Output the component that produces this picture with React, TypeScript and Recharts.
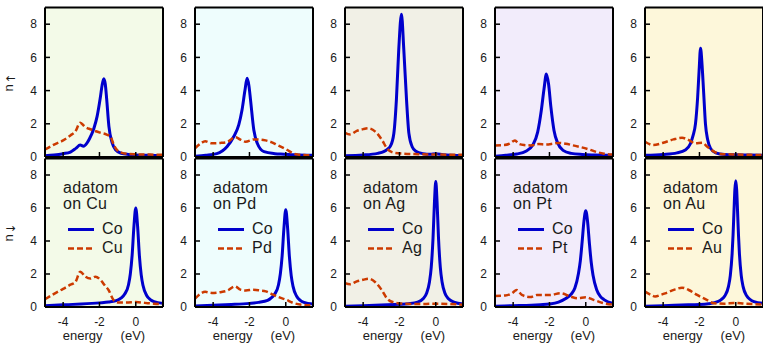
import React from 'react';
import { LineChart, Line, XAxis, YAxis, CartesianGrid, Legend } from 'recharts';

type Pt = [number, number];

const FONT = '"Liberation Sans", Arial, Helvetica, sans-serif';
const CO_COLOR = '#0000cc';
const SUB_COLOR = '#cc3a00';

const substrates = ['Cu', 'Pd', 'Ag', 'Pt', 'Au'];
const panelBg = ['#f3fae8', '#eefdfd', '#f1f0e6', '#f2ecfb', '#fdf7da'];
const energyTicks = [-4, -2, 0];
const nTicks = [0, 2, 4, 6, 8];

// [energy (eV), n]
const cuCoUp: Pt[] = [[-5, 0.08], [-4.5, 0.12], [-4, 0.2], [-3.6, 0.3], [-3.3, 0.52], [-3.06, 0.72], [-2.88, 0.65], [-2.7, 0.82], [-2.55, 1.1], [-2.3, 1.75], [-2.13, 2.45], [-1.95, 3.6], [-1.85, 4.35], [-1.76, 4.72], [-1.68, 4.4], [-1.6, 3.45], [-1.48, 1.85], [-1.3, 0.85], [-1.1, 0.42], [-0.8, 0.22], [-0.4, 0.15], [0, 0.12], [0.7, 0.1], [1.5, 0.08]];
const cuSubUp: Pt[] = [[-5, 0.45], [-4.5, 0.75], [-4, 1.0], [-3.6, 1.3], [-3.33, 1.53], [-3.06, 2.07], [-2.8, 1.82], [-2.5, 1.67], [-2.2, 1.55], [-1.94, 1.46], [-1.6, 1.35], [-1.39, 1.22], [-1.2, 0.7], [-1.0, 0.38], [-0.8, 0.26], [-0.4, 0.18], [0, 0.16], [0.5, 0.15], [1, 0.14], [1.5, 0.13]];
const cuCoDown: Pt[] = [[-5, 0.08], [-4, 0.13], [-3, 0.18], [-2, 0.25], [-1.5, 0.3], [-1.0, 0.42], [-0.8, 0.55], [-0.6, 0.8], [-0.4, 1.35], [-0.3, 2.0], [-0.2, 3.15], [-0.1, 4.9], [0, 6.0], [0.1, 4.9], [0.2, 3.1], [0.3, 1.95], [0.4, 1.3], [0.6, 0.7], [0.8, 0.45], [1.0, 0.33], [1.5, 0.22]];
const cuSubDown: Pt[] = [[-5, 0.47], [-4.5, 0.8], [-4, 1.1], [-3.6, 1.35], [-3.33, 1.5], [-3.06, 2.14], [-2.78, 1.84], [-2.5, 1.72], [-2.22, 1.84], [-1.94, 1.64], [-1.7, 1.3], [-1.5, 1.03], [-1.22, 0.42], [-0.94, 0.27], [-0.5, 0.27], [0, 0.3], [0.5, 0.25], [1, 0.2], [1.5, 0.18]];

const pdCoUp: Pt[] = [[-5, 0.05], [-4.4, 0.1], [-3.8, 0.2], [-3.24, 0.62], [-2.87, 1.22], [-2.59, 1.93], [-2.41, 2.83], [-2.25, 4.0], [-2.13, 4.74], [-2.03, 4.3], [-1.94, 3.43], [-1.76, 1.63], [-1.57, 0.83], [-1.2, 0.32], [-0.6, 0.2], [-0.1, 0.17], [0.5, 0.13], [1.5, 0.1]];
const pdSubUp: Pt[] = [[-5, 0.52], [-4.7, 0.8], [-4.44, 0.95], [-4.07, 0.83], [-3.6, 0.85], [-3.24, 0.9], [-2.78, 1.19], [-2.5, 1.05], [-2.22, 0.92], [-1.76, 1.06], [-1.4, 1.05], [-1.11, 1.0], [-0.8, 0.9], [-0.46, 0.72], [0.09, 0.42], [0.4, 0.22], [0.65, 0.15], [1.0, 0.12], [1.5, 0.1]];
const pdCoDown: Pt[] = [[-5, 0.06], [-4, 0.1], [-3, 0.15], [-2, 0.22], [-1.5, 0.28], [-1.0, 0.4], [-0.8, 0.55], [-0.6, 0.8], [-0.4, 1.35], [-0.3, 2.0], [-0.2, 3.1], [-0.1, 4.8], [0, 5.9], [0.1, 4.8], [0.2, 3.05], [0.3, 1.9], [0.4, 1.25], [0.6, 0.65], [0.8, 0.4], [1.0, 0.28], [1.5, 0.18]];
const pdSubDown: Pt[] = [[-5, 0.5], [-4.7, 0.8], [-4.44, 0.92], [-4.07, 0.85], [-3.6, 0.9], [-3.2, 1.0], [-2.8, 1.25], [-2.5, 1.05], [-2.2, 1.0], [-1.8, 1.05], [-1.4, 1.0], [-1.1, 0.95], [-0.8, 0.8], [-0.4, 0.6], [0, 0.45], [0.4, 0.25], [0.8, 0.15], [1.5, 0.1]];

const agCoUp: Pt[] = [[-5, 0.08], [-4, 0.12], [-3.2, 0.22], [-2.87, 0.32], [-2.65, 0.48], [-2.5, 0.65], [-2.31, 1.42], [-2.17, 3.43], [-2.04, 6.45], [-1.89, 8.6], [-1.76, 6.45], [-1.61, 3.43], [-1.48, 1.42], [-1.3, 0.62], [-1.1, 0.35], [-0.7, 0.2], [-0.3, 0.16], [0, 0.2], [0.4, 0.14], [1.5, 0.08]];
const agSubUp: Pt[] = [[-5, 1.46], [-4.72, 1.36], [-4.35, 1.57], [-4.0, 1.68], [-3.7, 1.73], [-3.33, 1.53], [-2.96, 1.02], [-2.69, 0.52], [-2.31, 0.26], [-1.76, 0.2], [-1, 0.17], [0, 0.15], [1.5, 0.13]];
const agCoDown: Pt[] = [[-5, 0.05], [-4, 0.08], [-3, 0.12], [-2, 0.16], [-1.5, 0.2], [-1.0, 0.3], [-0.7, 0.5], [-0.5, 0.85], [-0.35, 1.5], [-0.25, 2.4], [-0.15, 4.2], [-0.07, 6.4], [0, 7.6], [0.07, 6.4], [0.15, 4.2], [0.25, 2.4], [0.35, 1.5], [0.5, 0.85], [0.7, 0.5], [1.0, 0.3], [1.5, 0.18]];
const agSubDown: Pt[] = [[-5, 1.45], [-4.72, 1.38], [-4.35, 1.55], [-4.0, 1.65], [-3.7, 1.72], [-3.33, 1.5], [-2.96, 1.0], [-2.69, 0.52], [-2.31, 0.28], [-1.76, 0.2], [-1, 0.18], [0, 0.2], [1.5, 0.14]];

const ptCoUp: Pt[] = [[-5, 0.05], [-4.4, 0.1], [-3.8, 0.18], [-3.3, 0.35], [-2.9, 0.75], [-2.65, 1.5], [-2.45, 2.8], [-2.3, 4.1], [-2.17, 5.0], [-2.05, 4.4], [-1.92, 3.0], [-1.75, 1.6], [-1.55, 0.85], [-1.25, 0.4], [-0.8, 0.22], [-0.2, 0.15], [0.5, 0.12], [1.5, 0.1]];
const ptSubUp: Pt[] = [[-5, 0.7], [-4.5, 0.72], [-4.2, 0.8], [-3.9, 1.0], [-3.7, 0.8], [-3.4, 0.72], [-3.0, 0.7], [-2.6, 0.78], [-2.2, 0.75], [-1.8, 0.8], [-1.5, 0.85], [-1.1, 0.8], [-0.7, 0.7], [-0.3, 0.6], [0.2, 0.45], [0.6, 0.3], [1.0, 0.2], [1.5, 0.15]];
const ptCoDown: Pt[] = [[-5, 0.05], [-4, 0.08], [-3, 0.11], [-2.5, 0.14], [-2, 0.18], [-1.5, 0.3], [-1.1, 0.52], [-0.8, 0.78], [-0.6, 1.15], [-0.4, 2.05], [-0.3, 2.8], [-0.2, 3.95], [-0.1, 5.2], [0, 5.84], [0.1, 5.17], [0.2, 3.86], [0.3, 2.71], [0.4, 1.92], [0.6, 1.05], [0.8, 0.65], [1.0, 0.45], [1.5, 0.22]];
const ptSubDown: Pt[] = [[-5, 0.67], [-4.44, 0.7], [-4.07, 0.83], [-3.8, 1.03], [-3.52, 0.73], [-3.06, 0.6], [-2.69, 0.73], [-2.3, 0.72], [-1.94, 0.73], [-1.39, 0.83], [-0.83, 0.63], [-0.46, 0.53], [0, 0.59], [0.46, 0.42], [1.02, 0.22], [1.5, 0.15]];

const auCoUp: Pt[] = [[-5, 0.1], [-4, 0.15], [-3.24, 0.25], [-2.78, 0.42], [-2.5, 0.8], [-2.35, 1.3], [-2.22, 2.0], [-2.1, 3.6], [-2.02, 5.2], [-1.94, 6.55], [-1.86, 5.6], [-1.77, 3.9], [-1.67, 2.0], [-1.55, 1.05], [-1.39, 0.52], [-1.11, 0.25], [-0.6, 0.15], [0, 0.13], [0.7, 0.12], [1.5, 0.1]];
const auSubUp: Pt[] = [[-5, 0.92], [-4.54, 0.72], [-4.0, 0.86], [-3.43, 1.06], [-2.96, 1.16], [-2.59, 1.02], [-2.22, 0.82], [-1.85, 0.86], [-1.57, 0.62], [-1.2, 0.32], [-0.83, 0.18], [0, 0.15], [0.8, 0.13], [1.5, 0.12]];
const auCoDown: Pt[] = [[-5, 0.05], [-4, 0.08], [-3, 0.12], [-2, 0.15], [-1.5, 0.2], [-1.0, 0.32], [-0.8, 0.45], [-0.6, 0.68], [-0.4, 1.25], [-0.3, 1.92], [-0.2, 3.25], [-0.15, 4.35], [-0.1, 5.75], [-0.05, 7.1], [0, 7.65], [0.05, 7.1], [0.1, 5.75], [0.15, 4.35], [0.2, 3.25], [0.3, 1.92], [0.4, 1.25], [0.6, 0.68], [0.8, 0.45], [1.0, 0.33], [1.5, 0.22]];
const auSubDown: Pt[] = [[-5, 0.93], [-4.7, 0.75], [-4.44, 0.63], [-4.1, 0.75], [-3.89, 0.83], [-3.33, 1.07], [-2.96, 1.17], [-2.59, 1.03], [-2.13, 0.73], [-1.57, 0.42], [-1.2, 0.22], [-0.6, 0.2], [-0.1, 0.25], [0.5, 0.2], [1.5, 0.15]];

const coUp = [cuCoUp, pdCoUp, agCoUp, ptCoUp, auCoUp];
const subUp = [cuSubUp, pdSubUp, agSubUp, ptSubUp, auSubUp];
const coDown = [cuCoDown, pdCoDown, agCoDown, ptCoDown, auCoDown];
const subDown = [cuSubDown, pdSubDown, agSubDown, ptSubDown, auSubDown];

const toRows = (pts: Pt[]) => pts.map(([e, n]) => ({ e, n }));

const border = { stroke: '#000', strokeWidth: 2 };
const TICK_LEN = 5;

const LeftTick = ({ x, y, payload }: any) => (
  <g>
    <line x1={x} x2={x + TICK_LEN} y1={y} y2={y} stroke="#000" strokeWidth={1.5} />
    <text x={x - 8} y={y} dy="0.35em" textAnchor="end" fontSize={12} fontFamily={FONT} fill="#1a1a1a">
      {payload.value}
    </text>
  </g>
);

const RightTick = ({ x, y }: any) => (
  <line x1={x} x2={x - TICK_LEN} y1={y} y2={y} stroke="#000" strokeWidth={1.5} />
);

const BottomTick = ({ x, y, payload, showLabel }: any) => (
  <g>
    <line x1={x} x2={x} y1={y} y2={y - TICK_LEN} stroke="#000" strokeWidth={1.5} />
    {showLabel && (
      <text x={x} y={y + 19} textAnchor="middle" fontSize={12} fontFamily={FONT} fill="#1a1a1a">
        {payload.value}
      </text>
    )}
  </g>
);

const TopTick = ({ x, y }: any) => (
  <line x1={x} x2={x} y1={y} y2={y + TICK_LEN} stroke="#000" strokeWidth={1.5} />
);

const EnergyLabel = (props: any) => {
  const vb = props.viewBox || {};
  return (
    <text x={vb.x + vb.width / 2} y={vb.y + 33} textAnchor="middle" fontSize={13} fontFamily={FONT} fill="#1a1a1a">
      {'energy\u00a0\u00a0\u00a0\u00a0\u00a0(eV)'}
    </text>
  );
};

const legendContent = (sub: string) => (props: any) => {
  const items = [...(props.payload || [])].sort(
    (a: any, b: any) => (a.value === 'Co' ? 0 : 1) - (b.value === 'Co' ? 0 : 1)
  );
  return (
    <div style={{ fontFamily: FONT, fontSize: 16, lineHeight: '16px', color: '#1a1a1a', letterSpacing: 0.3, whiteSpace: 'nowrap' }}>
      <div>adatom</div>
      <div>on {sub}</div>
      <div style={{ marginTop: 8 }}>
        {items.map((it: any, i: number) => {
          const solid = it.value === 'Co';
          return (
            <div key={i} style={{ display: 'flex', alignItems: 'center', height: 19 }}>
              <svg width={31} height={19}>
                <line
                  x1={5}
                  x2={31}
                  y1={9.5}
                  y2={9.5}
                  stroke={it.color}
                  strokeWidth={solid ? 3 : 2.5}
                  strokeDasharray={solid ? undefined : '6 3'}
                />
              </svg>
              <span style={{ marginLeft: 8 }}>{it.value}</span>
            </div>
          );
        })}
      </div>
    </div>
  );
};

const Panel = ({ idx, down }: { idx: number; down: boolean }) => {
  const co = down ? coDown[idx] : coUp[idx];
  const sub = down ? subDown[idx] : subUp[idx];
  return (
    <div style={{ position: 'absolute', left: 150 * idx, top: down ? 150 : 0 }}>
      <LineChart
        width={164}
        height={down ? 195 : 166}
        margin={{ top: down ? 7.5 : 6.6, right: 0, bottom: down ? 0 : 8, left: 0 }}
      >
        <CartesianGrid xAxisId="b" yAxisId="l" horizontal={false} vertical={false} fill={panelBg[idx]} fillOpacity={1} />
        <XAxis
          xAxisId="b"
          dataKey="e"
          type="number"
          domain={[-5, 1.5]}
          ticks={energyTicks}
          interval={0}
          height={down ? 38 : 1}
          tickSize={0}
          tickMargin={0}
          axisLine={border}
          tickLine={false}
          tick={(p: any) => <BottomTick {...p} showLabel={down} />}
          label={down ? { content: EnergyLabel } : undefined}
        />
        <XAxis
          xAxisId="t"
          orientation="top"
          type="number"
          domain={[-5, 1.5]}
          ticks={energyTicks}
          interval={0}
          height={1}
          tickSize={0}
          tickMargin={0}
          axisLine={border}
          tickLine={false}
          tick={(p: any) => <TopTick {...p} />}
        />
        <YAxis
          yAxisId="l"
          type="number"
          domain={[0, 9]}
          ticks={nTicks}
          interval={0}
          width={45}
          tickSize={0}
          tickMargin={0}
          axisLine={border}
          tickLine={false}
          tick={(p: any) => <LeftTick {...p} />}
        />
        <YAxis
          yAxisId="r"
          orientation="right"
          type="number"
          domain={[0, 9]}
          ticks={nTicks}
          interval={0}
          width={1}
          tickSize={0}
          tickMargin={0}
          axisLine={border}
          tickLine={false}
          tick={(p: any) => <RightTick {...p} />}
        />
        <Line
          xAxisId="b"
          yAxisId="l"
          data={toRows(co)}
          dataKey="n"
          name="Co"
          type="monotone"
          stroke={CO_COLOR}
          strokeWidth={3}
          dot={false}
          activeDot={false}
          isAnimationActive={false}
        />
        <Line
          xAxisId="b"
          yAxisId="l"
          data={toRows(sub)}
          dataKey="n"
          name={substrates[idx]}
          type="monotone"
          stroke={SUB_COLOR}
          strokeWidth={2.5}
          strokeDasharray="6 3"
          dot={false}
          activeDot={false}
          isAnimationActive={false}
        />
        {down && (
          <Legend
            layout="vertical"
            align="center"
            verticalAlign="middle"
            content={legendContent(substrates[idx])}
            wrapperStyle={{ left: 63, top: 29.5, width: 100, height: 'auto' }}
          />
        )}
      </LineChart>
    </div>
  );
};

const SpinLabel = ({ y, arrow }: { y: number; arrow: string }) => (
  <text transform={`translate(13, ${y}) rotate(-90)`} fontSize={13} fontFamily={FONT} fill="#1a1a1a">
    n
    <tspan fontFamily='"DejaVu Sans", sans-serif' fontSize={12} dx={0.5} dy={1.5}>
      {arrow}
    </tspan>
  </text>
);

export default function App() {
  return (
    <div style={{ position: 'absolute', left: 0, top: 0, width: 763, height: 345, overflow: 'hidden', background: '#fff' }}>
      {substrates.map((s, i) => (
        <Panel key={`u${s}`} idx={i} down={false} />
      ))}
      {substrates.map((s, i) => (
        <Panel key={`d${s}`} idx={i} down={true} />
      ))}
      <svg width={40} height={345} style={{ position: 'absolute', left: 0, top: 0 }}>
        <SpinLabel y={91.5} arrow="↑" />
        <SpinLabel y={241.5} arrow="↓" />
      </svg>
    </div>
  );
}
